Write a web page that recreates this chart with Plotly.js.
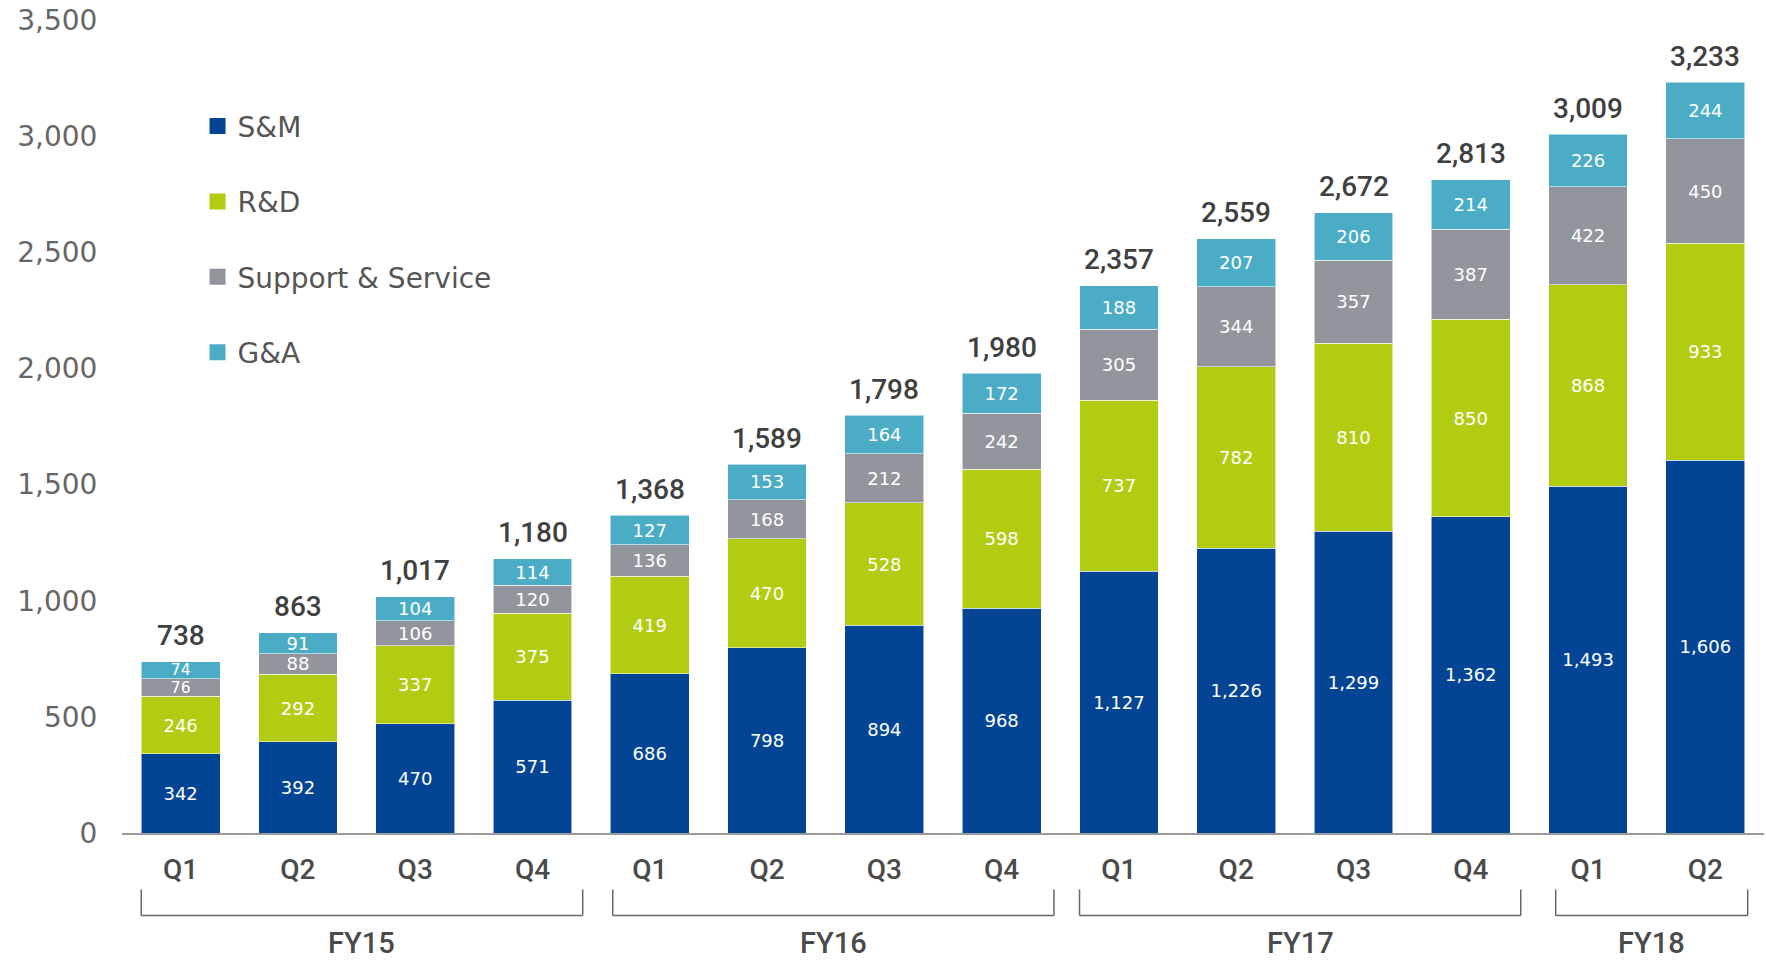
<!DOCTYPE html>
<html>
<head>
<meta charset="utf-8">
<script src="https://cdn.plot.ly/plotly-3.0.1.min.js"></script>
<style>
html,body{margin:0;padding:0;background:#fff;}
#chart{width:1766px;height:963px;}
</style>
</head>
<body>
<div id="chart"></div>
<script>
// ---- data ----
const quarters = ['Q1','Q2','Q3','Q4','Q1','Q2','Q3','Q4','Q1','Q2','Q3','Q4','Q1','Q2'];
const fiscalYearOfBar = ['FY15','FY15','FY15','FY15','FY16','FY16','FY16','FY16','FY17','FY17','FY17','FY17','FY18','FY18'];
const seriesNames = ['S&M','R&D','Support & Service','G&A'];
const smValues = [342,392,470,571,686,798,894,968,1127,1226,1299,1362,1493,1606];
const rdValues = [246,292,337,375,419,470,528,598,737,782,810,850,868,933];
const ssValues = [76,88,106,120,136,168,212,242,305,344,357,387,422,450];
const gaValues = [74,91,104,114,127,153,164,172,188,207,206,214,226,244];
const totalValues = [738,863,1017,1180,1368,1589,1798,1980,2357,2559,2672,2813,3009,3233];
const yTickVals = [0,500,1000,1500,2000,2500,3000,3500];

// ---- styling ----
const colors = ['#034594','#B2CC12','#93959C','#4BACC6'];
const FONT = '"DejaVu Sans", "Open Sans", sans-serif';
const FONT_MED = 'Roboto, "DejaVu Sans", sans-serif';
const xIdx = quarters.map((q,i)=>i);
const barWidth = 0.672;
// bracket end offsets (in category units) per fiscal year [left, right]
const bracketOffsets = [[0, 0.092], [0.02, 0.11], [0, 0.09], [0.06, 0.025]];
// slightly smaller labels in very thin segments
const labelSize = v => (v < 80 ? 15.5 : 18);

const seriesValues = [smValues, rdValues, ssValues, gaValues];
const traces = seriesValues.map((vals, k) => ({
  type: 'bar',
  name: seriesNames[k],
  x: xIdx,
  y: vals,
  width: barWidth,
  showlegend: false,
  marker: {color: colors[k], line: {color: 'rgba(255,255,255,0.55)', width: 1}},
  texttemplate: '%{y:,}',
  textposition: 'inside',
  insidetextanchor: 'middle',
  constraintext: 'none',
  textangle: 0,
  textfont: {family: FONT, size: vals.map(labelSize), color: '#ffffff'},
  hoverinfo: 'skip'
}));

// legend entries with larger square swatches
seriesNames.forEach((name, k) => {
  traces.push({
    type: 'scatter', mode: 'markers', name: name,
    x: [null], y: [null],
    legendgroup: 'g' + k,
    marker: {symbol: 'square', size: 16, color: colors[k]},
    hoverinfo: 'skip'
  });
});

const shapes = [];
const annotations = [];

// totals above bars
xIdx.forEach(i => {
  annotations.push({
    xref: 'x', yref: 'y', x: i, y: totalValues[i],
    text: totalValues[i].toLocaleString('en-US'),
    showarrow: false, xanchor: 'center', yanchor: 'middle', yshift: 26,
    font: {family: FONT_MED, size: 28, color: '#404040', weight: 500}
  });
});

// brackets for fiscal years
const fyList = [...new Set(fiscalYearOfBar)];
const yTop = -0.0695, yBot = -0.1014;
fyList.forEach((fy, g) => {
  const idxs = xIdx.filter(i => fiscalYearOfBar[i] === fy);
  const x0 = Math.min(...idxs) - barWidth/2 + bracketOffsets[g][0];
  const x1 = Math.max(...idxs) + barWidth/2 + bracketOffsets[g][1];
  const line = {color: '#666666', width: 1.5};
  shapes.push({type:'line', xref:'x', yref:'paper', x0:x0, x1:x0, y0:yTop, y1:yBot, line});
  shapes.push({type:'line', xref:'x', yref:'paper', x0:x1, x1:x1, y0:yTop, y1:yBot, line});
  shapes.push({type:'line', xref:'x', yref:'paper', x0:x0, x1:x1, y0:yBot, y1:yBot, line});
  annotations.push({
    xref:'x', yref:'paper', x:(x0+x1)/2, y:-0.135, text: fy, showarrow:false,
    yanchor:'middle', xanchor:'center',
    font:{family:FONT_MED, size:29, color:'#4a4a4a', weight: 500}
  });
});

const layout = {
  width: 1766, height: 963,
  margin: {l: 122, r: 2, t: 20, b: 130},
  paper_bgcolor: '#ffffff', plot_bgcolor: '#ffffff',
  barmode: 'stack',
  showlegend: true,
  hovermode: false,
  font: {family: FONT, color: '#555555'},
  xaxis: {
    range: [-0.5, 13.5],
    tickvals: xIdx, ticktext: quarters,
    tickfont: {family: FONT_MED, size: 28, color: '#4a4a4a', weight: 500},
    ticks: 'outside', ticklen: 10, tickcolor: 'rgba(0,0,0,0)',
    showline: true, linecolor: '#9a9a9a', linewidth: 2,
    showgrid: false, zeroline: false, fixedrange: true
  },
  yaxis: {
    range: [0, 3501],
    tickvals: yTickVals, ticktext: yTickVals.map(v => v.toLocaleString('en-US')),
    tickfont: {family: FONT, size: 28, color: '#666666'},
    ticks: 'outside', ticklen: 18, tickcolor: 'rgba(0,0,0,0)',
    showgrid: false, zeroline: false, showline: false, fixedrange: true
  },
  legend: {
    x: 0.046, y: 0.9, xanchor: 'left', yanchor: 'top',
    traceorder: 'grouped', tracegroupgap: 36,
    font: {family: FONT, size: 28, color: '#555555'},
    bgcolor: 'rgba(0,0,0,0)',
    itemclick: false, itemdoubleclick: false
  },
  shapes: shapes,
  annotations: annotations
};

Plotly.newPlot('chart', traces, layout, {displayModeBar: false, staticPlot: true});
</script>
</body>
</html>
